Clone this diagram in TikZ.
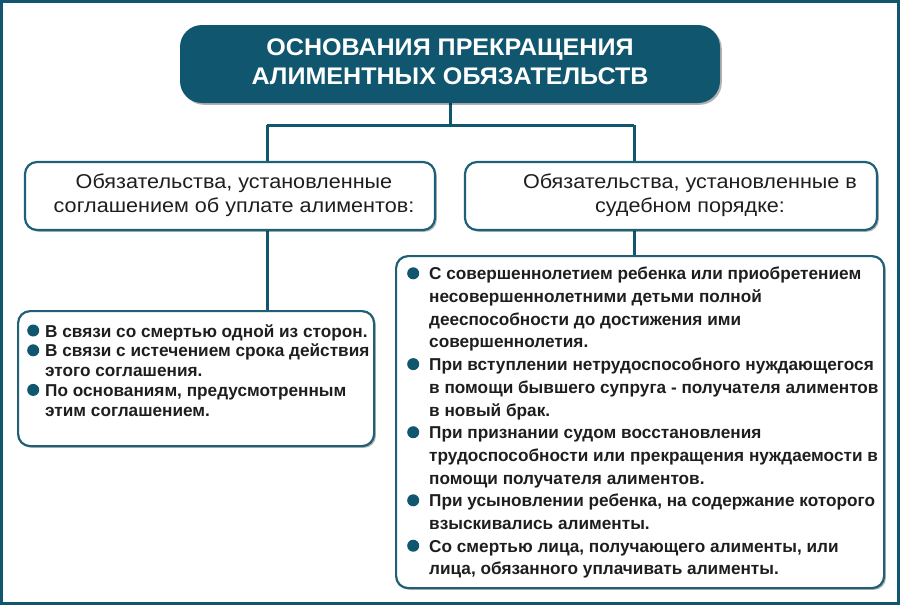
\documentclass[tikz,border=0pt]{standalone}
\usepackage{fontspec}
\setmainfont{Liberation Sans}
\usetikzlibrary{shadows}
\definecolor{tealc}{RGB}{16,86,110}
\definecolor{bordc}{RGB}{30,96,118}
\definecolor{txtc}{RGB}{30,30,30}
\newcommand\bul[1]{\makebox[#1][l]{\tikz[baseline=-6.5pt]\fill[tealc] (0,0) circle (6pt);}}
\begin{document}
\begin{tikzpicture}[x=1pt,y=-1pt,
  shad/.style={drop shadow={shadow xshift=1.8pt,shadow yshift=-1.8pt,fill=black,opacity=0.3}},
  box/.style={draw=bordc,line width=2.2pt,rounded corners=12pt,fill=white,shad,inner sep=0pt},
  titlebox/.style={fill=tealc,rounded corners=22pt,shad,inner sep=0pt,text=white,
    font=\bfseries\fontsize{24}{29}\selectfont},
  headtext/.style={text=txtc,font=\fontsize{20}{24}\selectfont},
  listtext/.style={text=txtc,inner sep=0pt,align=left},
  conn/.style={draw=tealc,line width=3pt}]
\useasboundingbox (0,0) rectangle (900,605);
\draw[tealc,line width=3pt] (1.5,1.5) rectangle (898.5,603.5);
% junction coordinates
\coordinate (jt) at (450,125);
\coordinate (jL) at (267,125);
\coordinate (jR) at (634,125);
% connectors (under boxes)
\draw[conn] (450,90) -- (jt);
\draw[conn] (jL) -- (jR);
\draw[conn] (jL) -- ++(0,45);
\draw[conn] (jR) -- ++(0,45);
\draw[conn] (267,220) -- (267,318);
\draw[conn] (634,220) -- (634,263);
% title
\node[titlebox,minimum width=540pt,minimum height=78pt] (title) at (450,64)
  {\scalebox{1.045}[1]{\begin{tabular}{@{}c@{}}ОСНОВАНИЯ ПРЕКРАЩЕНИЯ\\АЛИМЕНТНЫХ ОБЯЗАТЕЛЬСТВ\end{tabular}}};
% level 2
\node[box,headtext,minimum width=410pt,minimum height=68pt] (L2) at (230,196)
  {\hspace*{8pt}\scalebox{1.08}[1]{\begin{tabular}{@{}c@{}}Обязательства, установленные\\соглашением об уплате алиментов:\end{tabular}}};
\node[box,headtext,minimum width=412pt,minimum height=68pt] (R2) at (671,196)
  {\hspace*{38pt}\scalebox{1.08}[1]{\begin{tabular}{@{}c@{}}Обязательства, установленные в\\судебном порядке:\end{tabular}}};
% level 3
\node[box,anchor=north west,minimum width=356pt,minimum height=135pt] (L3) at (17,310) {};
\node[box,anchor=north west,minimum width=488pt,minimum height=332pt] (R3) at (395,255) {};
\node[listtext,anchor=north west,font=\bfseries\fontsize{17.2}{19.8}\selectfont] (L3t) at (27,324)
  {\bul{18pt}В связи со смертью одной из сторон.\\
   \bul{18pt}В связи с истечением срока действия\\
   \hspace*{18pt}этого соглашения.\\
   \bul{18pt}По основаниям, предусмотренным\\
   \hspace*{18pt}этим соглашением.};
\node[listtext,anchor=north west,font=\bfseries\fontsize{17.2}{22.7}\selectfont] (R3t) at (407,267)
  {\bul{22pt}С совершеннолетием ребенка или приобретением\\
   \hspace*{22pt}несовершеннолетними детьми полной\\
   \hspace*{22pt}дееспособности до достижения ими\\
   \hspace*{22pt}совершеннолетия.\\
   \bul{22pt}При вступлении нетрудоспособного нуждающегося\\
   \hspace*{22pt}в помощи бывшего супруга - получателя алиментов\\
   \hspace*{22pt}в новый брак.\\
   \bul{22pt}При признании судом восстановления\\
   \hspace*{22pt}трудоспособности или прекращения нуждаемости в\\
   \hspace*{22pt}помощи получателя алиментов.\\
   \bul{22pt}При усыновлении ребенка, на содержание которого\\
   \hspace*{22pt}взыскивались алименты.\\
   \bul{22pt}Со смертью лица, получающего алименты, или\\
   \hspace*{22pt}лица, обязанного уплачивать алименты.};
\end{tikzpicture}
\end{document}
